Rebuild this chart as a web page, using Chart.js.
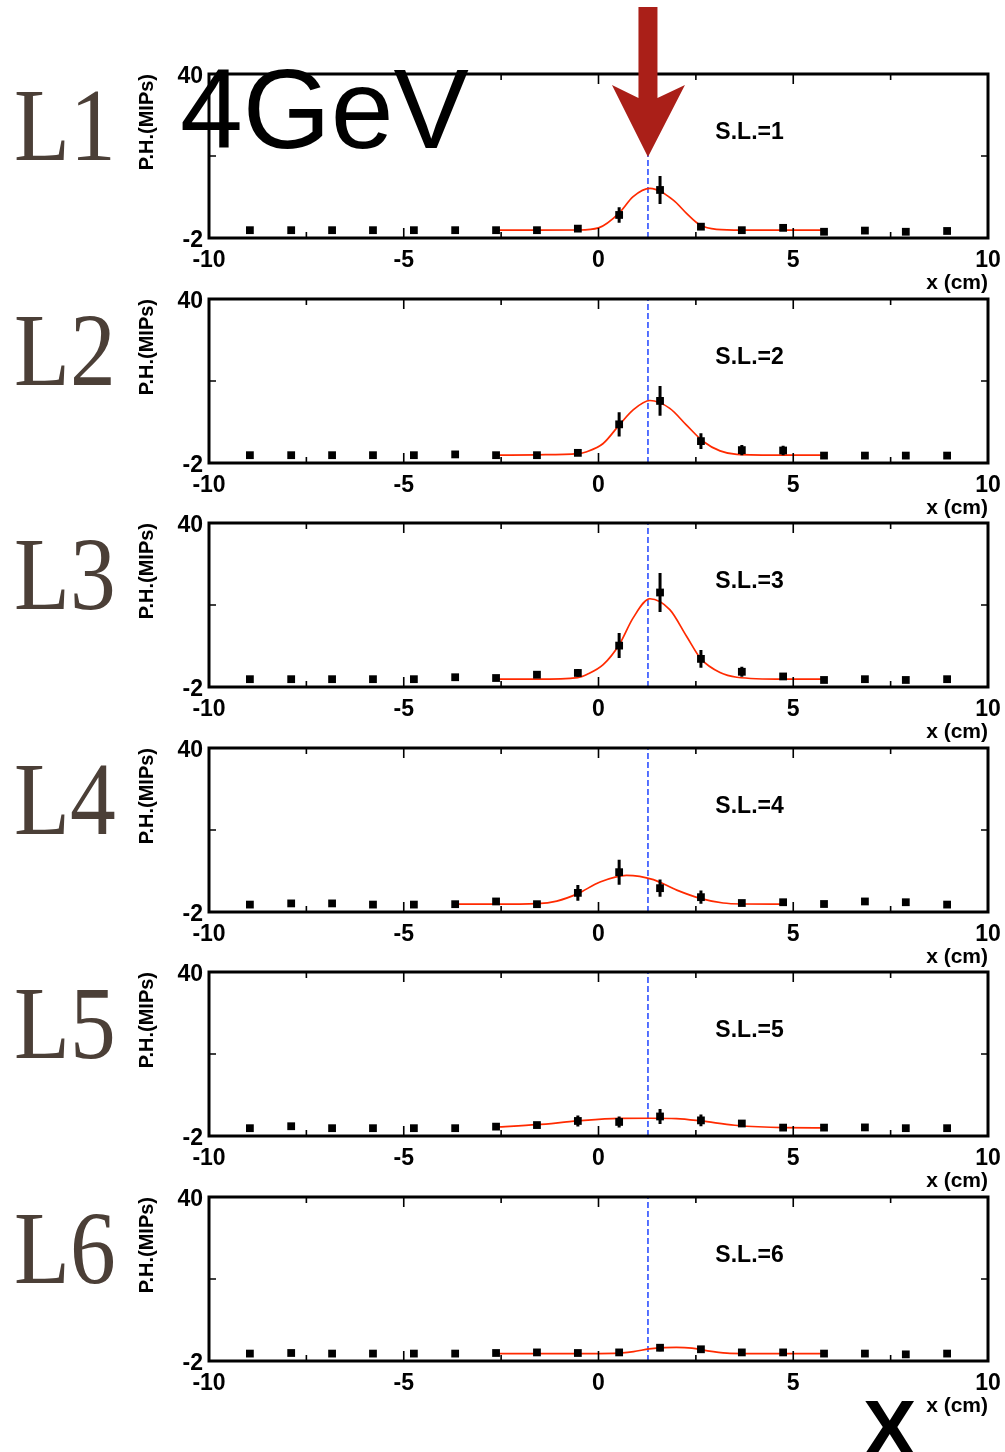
<!DOCTYPE html>
<html>
<head>
<meta charset="utf-8">
<title>4GeV lateral profile per layer</title>
<script src="https://cdn.jsdelivr.net/npm/chart.js@4.4.1/dist/chart.umd.min.js"></script>
<style>
  body { margin: 0; background: #fff; }
  #page { position: relative; width: 1005px; height: 1452px; overflow: hidden; }
  #page canvas { position: absolute; left: 0; }
  .layer {
    position: absolute; left: 14px;
    font-family: 'Liberation Serif', 'DejaVu Serif', serif;
    font-size: 104px; line-height: 1; color: #4b3f37;
    transform: scaleX(0.88); transform-origin: 0 0; white-space: nowrap;
  }
  .energy {
    position: absolute; left: 180px; top: 53px;
    font-family: 'Liberation Sans', Arial, sans-serif;
    font-size: 113px; line-height: 1; color: #000; white-space: nowrap;
  }
  .bigx {
    position: absolute; left: 863px; top: 1389px;
    font-family: 'Liberation Sans', Arial, sans-serif; font-weight: bold;
    font-size: 80px; line-height: 1; color: #000;
  }
</style>
</head>
<body>
<div id="page"></div>
<script>
// Lateral pulse-height profiles, 4GeV, layers L1..L6

// strip centres (cm), shared by every layer
const X_POS = [-8.95, -7.89, -6.84, -5.79, -4.74, -3.68, -2.63, -1.58, -0.53,
               0.53, 1.58, 2.63, 3.68, 4.74, 5.79, 6.84, 7.89, 8.95];

const PH_L1  = [0, 0, 0, 0, 0, 0, 0, 0, 0.4, 3.9, 10.3, 0.9, 0, 0.6, -0.4, -0.1, -0.4, -0.2];
const ERR_L1 = [0, 0, 0, 0, 0, 0, 0, 0, 0.3, 2.0, 3.6, 0.5, 0, 0, 0, 0, 0, 0];
const PH_L2  = [0, 0, 0, 0, 0, 0.2, 0, 0, 0.6, 7.9, 13.9, 3.6, 1.3, 1.2, -0.1, -0.1, -0.1, -0.1];
const ERR_L2 = [0, 0, 0, 0, 0, 0, 0, 0, 0.4, 3.1, 3.8, 2.0, 1.3, 1.2, 0, 0, 0, 0];
const PH_L3  = [0, 0, 0, 0, 0, 0.5, 0.3, 1.15, 1.6, 8.6, 22.2, 5.2, 1.9, 0.7, -0.2, 0, -0.2, 0];
const ERR_L3 = [0, 0, 0, 0, 0, 0, 0, 0.8, 1.0, 3.2, 5.0, 2.3, 1.3, 0.4, 0, 0, 0, 0];
const PH_L4  = [-0.1, 0.2, 0.2, -0.1, -0.1, 0, 0.7, 0, 2.9, 8.2, 4.1, 1.8, 0.3, 0.5, 0.05, 0.7, 0.5, -0.1];
const ERR_L4 = [0, 0, 0, 0, 0, 0, 0, 0, 2.0, 3.2, 2.2, 1.7, 0, 0, 0, 0, 0, 0];
const PH_L5  = [0, 0.5, 0, 0, 0, 0, 0.4, 0.8, 1.85, 1.6, 3.0, 2.0, 1.2, 0.15, 0.15, 0.2, 0, 0];
const ERR_L5 = [0, 0, 0, 0, 0, 0, 0, 0.4, 1.4, 1.4, 1.9, 1.5, 0.8, 0, 0, 0, 0, 0];
const PH_L6  = [-0.1, 0.05, -0.1, -0.1, -0.1, -0.1, 0.05, 0.2, 0.05, 0.2, 1.4, 1.0, 0.2, 0.2, -0.1, -0.1, -0.3, -0.1];
const ERR_L6 = [0, 0, 0, 0, 0, 0, 0, 0, 0, 0, 0.9, 0.8, 0, 0, 0, 0, 0, 0];

// fitted curves
const FIT_X_L1 = [-2.63, -1.58, -0.53, 0.0, 0.53, 0.89, 1.32, 1.92, 2.26, 2.61, 3.03, 3.68, 4.74, 5.79];
const FIT_Y_L1 = [0, 0, 0.05, 0.6, 4.4, 8.6, 10.7, 7.7, 4.3, 1.3, 0.2, 0, 0, 0];
const FIT_X_L2 = [-2.63, -1.58, -0.53, -0.3, 0.12, 0.53, 0.89, 1.32, 1.83, 2.26, 2.69, 3.12, 3.55, 4.74, 5.79];
const FIT_Y_L2 = [0, 0.1, 0.4, 0.9, 3.0, 7.7, 11.6, 14.0, 12.0, 7.7, 3.5, 1.1, 0.2, 0, 0];
const FIT_X_L3 = [-2.63, -1.58, -0.53, -0.3, 0.12, 0.53, 0.89, 1.32, 1.83, 2.26, 2.63, 3.12, 3.55, 4.74, 5.79];
const FIT_Y_L3 = [0, 0, 0.4, 1.2, 3.7, 8.8, 15.7, 20.6, 17.8, 11.0, 5.2, 1.7, 0.5, 0, 0];
const FIT_X_L4 = [-3.68, -2.63, -1.58, -1.07, -0.53, 0.04, 0.72, 1.41, 2.01, 2.61, 3.2, 3.68, 4.74];
const FIT_Y_L4 = [0, 0, 0.15, 0.8, 2.7, 5.7, 7.4, 6.3, 3.6, 1.5, 0.3, 0.05, 0];
const FIT_X_L5 = [-2.63, -1.58, -0.53, 0.53, 1.32, 2.0, 2.63, 3.5, 4.74, 5.79];
const FIT_Y_L5 = [0.3, 0.9, 1.85, 2.5, 2.55, 2.45, 1.85, 0.75, 0.15, 0.1];
const FIT_X_L6 = [-2.63, -1.58, -0.53, 0.4, 0.9, 1.3, 1.7, 2.0, 2.4, 2.8, 3.3, 3.68, 4.74, 5.79];
const FIT_Y_L6 = [-0.1, -0.1, -0.1, -0.05, 0.4, 1.1, 1.45, 1.5, 1.3, 0.6, 0, -0.1, -0.1, -0.1];

const BEAM_X = 1.27;          // dashed line / arrow
const X_TICK_LABELS = [-10, -5, 0, 5, 10];
const Y_TICK_LABELS = [-2, 40];
const X_MIN = -10, X_MAX = 10, Y_MIN = -2, Y_MAX = 40;

const PANELS = [
  { name: 'L1', sl: 1, ph: PH_L1, err: ERR_L1, fitX: FIT_X_L1, fitY: FIT_Y_L1 },
  { name: 'L2', sl: 2, ph: PH_L2, err: ERR_L2, fitX: FIT_X_L2, fitY: FIT_Y_L2 },
  { name: 'L3', sl: 3, ph: PH_L3, err: ERR_L3, fitX: FIT_X_L3, fitY: FIT_Y_L3 },
  { name: 'L4', sl: 4, ph: PH_L4, err: ERR_L4, fitX: FIT_X_L4, fitY: FIT_Y_L4 },
  { name: 'L5', sl: 5, ph: PH_L5, err: ERR_L5, fitX: FIT_X_L5, fitY: FIT_Y_L5 },
  { name: 'L6', sl: 6, ph: PH_L6, err: ERR_L6, fitX: FIT_X_L6, fitY: FIT_Y_L6 }
];

// layout (page pixels)
const PLOT_TOPS = [74, 299, 523, 748, 972, 1197];
const PLOT_H = 164;
const AXIS_LEFT_W = 209;
const AXIS_BOTTOM_H = 66;
const RIGHT_PAD = 17;

const FONT = "'Liberation Sans', Arial, sans-serif";

// frame, inward ticks and S.L. label
const frameTicks = {
  id: 'frameTicks',
  afterDatasetsDraw(chart, args, opts) {
    const { ctx, chartArea: a, scales: { x, y } } = chart;
    ctx.save();
    ctx.strokeStyle = '#000';
    ctx.lineWidth = 1.6;
    ctx.beginPath();
    for (let v = X_MIN + 2.5; v < X_MAX; v += 2.5) {
      const px = x.getPixelForValue(v);
      const len = v % 5 === 0 ? 10 : 6;
      ctx.moveTo(px, a.bottom); ctx.lineTo(px, a.bottom - len);
      ctx.moveTo(px, a.top); ctx.lineTo(px, a.top + len);
    }
    const py = y.getPixelForValue((Y_MIN + Y_MAX) / 2);
    ctx.moveTo(a.left, py); ctx.lineTo(a.left + 7, py);
    ctx.moveTo(a.right, py); ctx.lineTo(a.right - 7, py);
    ctx.stroke();

    ctx.lineWidth = 3;
    ctx.strokeRect(a.left, a.top, a.right - a.left, a.bottom - a.top);

    ctx.fillStyle = '#000';
    ctx.font = 'bold 23px ' + FONT;
    ctx.textAlign = 'left';
    ctx.textBaseline = 'middle';
    ctx.fillText('S.L.=' + opts.sl, x.getPixelForValue(3.0), a.top + 59);
    ctx.restore();
  }
};

// big arrow above the first panel, pointing at the beam position
const beamArrow = {
  id: 'beamArrow',
  afterDraw(chart, args, opts) {
    if (!opts.show) return;
    const { ctx, chartArea: a, scales: { x } } = chart;
    const cx = x.getPixelForValue(BEAM_X);
    ctx.save();
    ctx.fillStyle = '#aa1f18';
    ctx.beginPath();
    ctx.moveTo(cx - 9.5, 7);
    ctx.lineTo(cx + 9.5, 7);
    ctx.lineTo(cx + 9.5, 98);
    ctx.lineTo(cx + 37, 85);
    ctx.lineTo(cx, a.top + 83);
    ctx.lineTo(cx - 36, 85);
    ctx.lineTo(cx - 9.5, 98);
    ctx.closePath();
    ctx.fill();
    ctx.restore();
  }
};

function errorBarData(ph, err) {
  const out = [];
  X_POS.forEach((xv, i) => {
    if (err[i] > 0) {
      out.push({ x: xv, y: ph[i] - err[i] }, { x: xv, y: ph[i] + err[i] }, { x: xv, y: null });
    }
  });
  return out;
}

const page = document.getElementById('page');

PANELS.forEach((p, i) => {
  const canvasTop = i === 0 ? 0 : PLOT_TOPS[i] - 20;
  const padTop = PLOT_TOPS[i] - canvasTop;
  const canvas = document.createElement('canvas');
  canvas.width = 1005;
  canvas.height = padTop + PLOT_H + AXIS_BOTTOM_H;
  canvas.style.top = canvasTop + 'px';
  page.appendChild(canvas);

  const label = document.createElement('div');
  label.className = 'layer';
  label.textContent = p.name;
  label.style.top = Math.round(160 + i * 224.6 - 87) + 'px';
  page.appendChild(label);

  new Chart(canvas, {
    type: 'scatter',
    data: {
      datasets: [
        {
          data: X_POS.map((xv, k) => ({ x: xv, y: p.ph[k] })),
          pointStyle: 'rect',
          pointRadius: 5.5,
          backgroundColor: '#000',
          borderWidth: 0,
          order: 0
        },
        {
          data: errorBarData(p.ph, p.err),
          showLine: true,
          spanGaps: false,
          borderColor: '#000',
          borderWidth: 3,
          pointRadius: 0,
          order: 1
        },
        {
          data: p.fitX.map((xv, k) => ({ x: xv, y: p.fitY[k] })),
          showLine: true,
          cubicInterpolationMode: 'monotone',
          borderColor: '#ff2a00',
          borderWidth: 1.7,
          pointRadius: 0,
          order: 2
        },
        {
          data: [{ x: BEAM_X, y: Y_MIN }, { x: BEAM_X, y: Y_MAX }],
          showLine: true,
          borderColor: '#1f44ff',
          borderWidth: 1.5,
          borderDash: [6, 3],
          pointRadius: 0,
          order: 3
        }
      ]
    },
    options: {
      responsive: false,
      animation: false,
      layout: { padding: { top: padTop, right: RIGHT_PAD, bottom: 0, left: 0 } },
      plugins: {
        legend: { display: false },
        tooltip: { enabled: false },
        frameTicks: { sl: p.sl },
        beamArrow: { show: i === 0 }
      },
      scales: {
        x: {
          type: 'linear',
          min: X_MIN,
          max: X_MAX,
          afterBuildTicks: (axis) => { axis.ticks = X_TICK_LABELS.map(v => ({ value: v })); },
          afterFit: (axis) => { axis.height = AXIS_BOTTOM_H; },
          ticks: {
            autoSkip: false,
            maxRotation: 0,
            padding: 4,
            color: '#000',
            font: { family: FONT, size: 23, weight: 'bold' }
          },
          grid: { display: false, drawTicks: true, tickLength: 5 },
          border: { display: false },
          title: {
            display: true,
            text: 'x (cm)',
            align: 'end',
            color: '#000',
            font: { family: FONT, size: 21, weight: 'bold' },
            padding: { top: 0, bottom: 8 }
          }
        },
        y: {
          type: 'linear',
          min: Y_MIN,
          max: Y_MAX,
          afterBuildTicks: (axis) => { axis.ticks = Y_TICK_LABELS.map(v => ({ value: v })); },
          afterFit: (axis) => { axis.width = AXIS_LEFT_W; },
          ticks: {
            padding: 6,
            labelOffset: 3,
            color: '#000',
            font: { family: FONT, size: 23, weight: 'bold' }
          },
          grid: { display: false, drawTicks: false },
          border: { display: false },
          title: {
            display: true,
            text: 'P.H.(MIPs)',
            align: 'end',
            color: '#000',
            font: { family: FONT, size: 20, weight: 'bold' },
            padding: { top: 135, bottom: 0 }
          }
        }
      }
    },
    plugins: [frameTicks, beamArrow]
  });
});

const energy = document.createElement('div');
energy.className = 'energy';
energy.textContent = '4GeV';
page.appendChild(energy);

const bigX = document.createElement('div');
bigX.className = 'bigx';
bigX.textContent = 'X';
page.appendChild(bigX);
</script>
</body>
</html>
